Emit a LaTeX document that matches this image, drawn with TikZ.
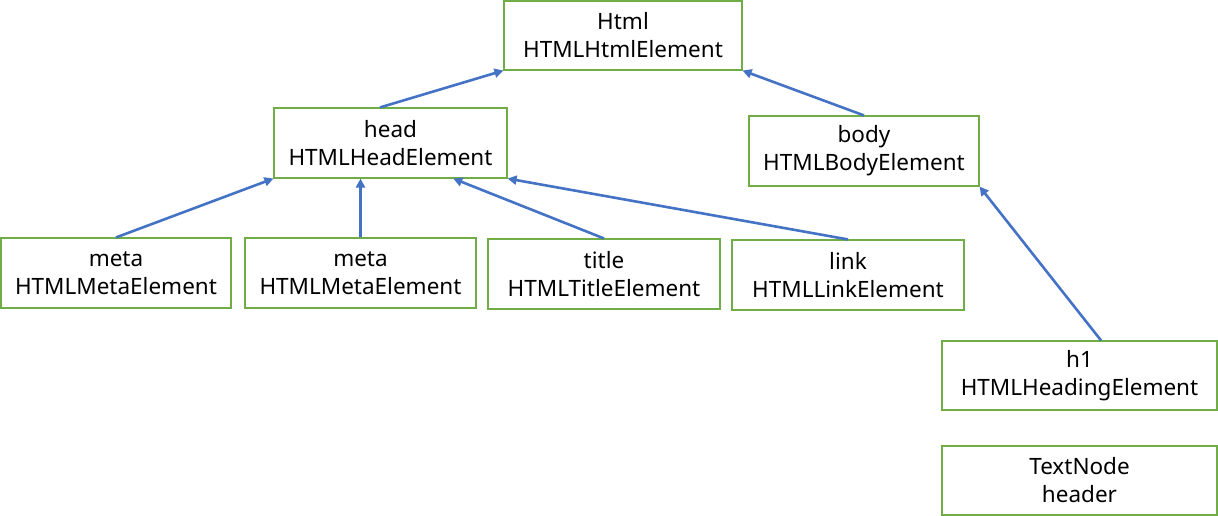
\documentclass[tikz,border=0pt]{standalone}
\usepackage{fontspec}
\setmainfont{Noto Sans}
\usetikzlibrary{arrows.meta,calc}
\definecolor{boxgreen}{HTML}{70AD47}
\definecolor{arrowblue}{HTML}{4472C4}
\tikzset{
  elem/.style={draw=boxgreen, line width=1.1pt, fill=white, align=center, inner sep=0pt,
    font=\fontsize{22.5}{28}\selectfont},
  link/.style={draw=arrowblue, line width=2.6pt, -{Triangle[length=9pt,width=9pt]}}
}
\begin{document}
\begin{tikzpicture}[x=1pt,y=-1pt]
\useasboundingbox (0,0) rectangle (1218,516);
\node[elem, minimum width=238pt, minimum height=69pt] (html) at (623,35.5) {Html\\HTMLHtmlElement};
\node[elem, minimum width=233pt, minimum height=70pt] (head) at (390.5,143) {head\\HTMLHeadElement};
\node[elem, minimum width=230pt, minimum height=70pt] (body) at (864,151) {body\\HTMLBodyElement};
\node[elem, minimum width=230pt, minimum height=70pt] (meta1) at (116,273) {meta\\HTMLMetaElement};
\node[elem, minimum width=231pt, minimum height=70pt] (meta2) at (360.5,273) {meta\\HTMLMetaElement};
\node[elem, minimum width=232pt, minimum height=70pt] (title) at (604,274) {title\\HTMLTitleElement};
\node[elem, minimum width=232pt, minimum height=70pt] (linkel) at (848,275) {link\\HTMLLinkElement};
\node[elem, minimum width=275pt, minimum height=69pt] (h1) at (1079.5,375.5) {h1\\HTMLHeadingElement};
\node[elem, minimum width=275pt, minimum height=69pt] (text) at (1079.5,480.5) {TextNode\\header};
\draw[link] ($(head.north west)!0.455!(head.north east)$) -- (html.south west);
\draw[link] (body.north) -- (html.south east);
\draw[link] (meta1.north) -- (head.south west);
\draw[link] (meta2.north) -- (meta2.north |- head.south);
\draw[link] (title.north) -- ($(head.south west)!0.768!(head.south east)$);
\draw[link] (linkel.north) -- (head.south east);
\draw[link] ($(h1.north west)!0.578!(h1.north east)$) -- (body.south east);
\end{tikzpicture}
\end{document}
